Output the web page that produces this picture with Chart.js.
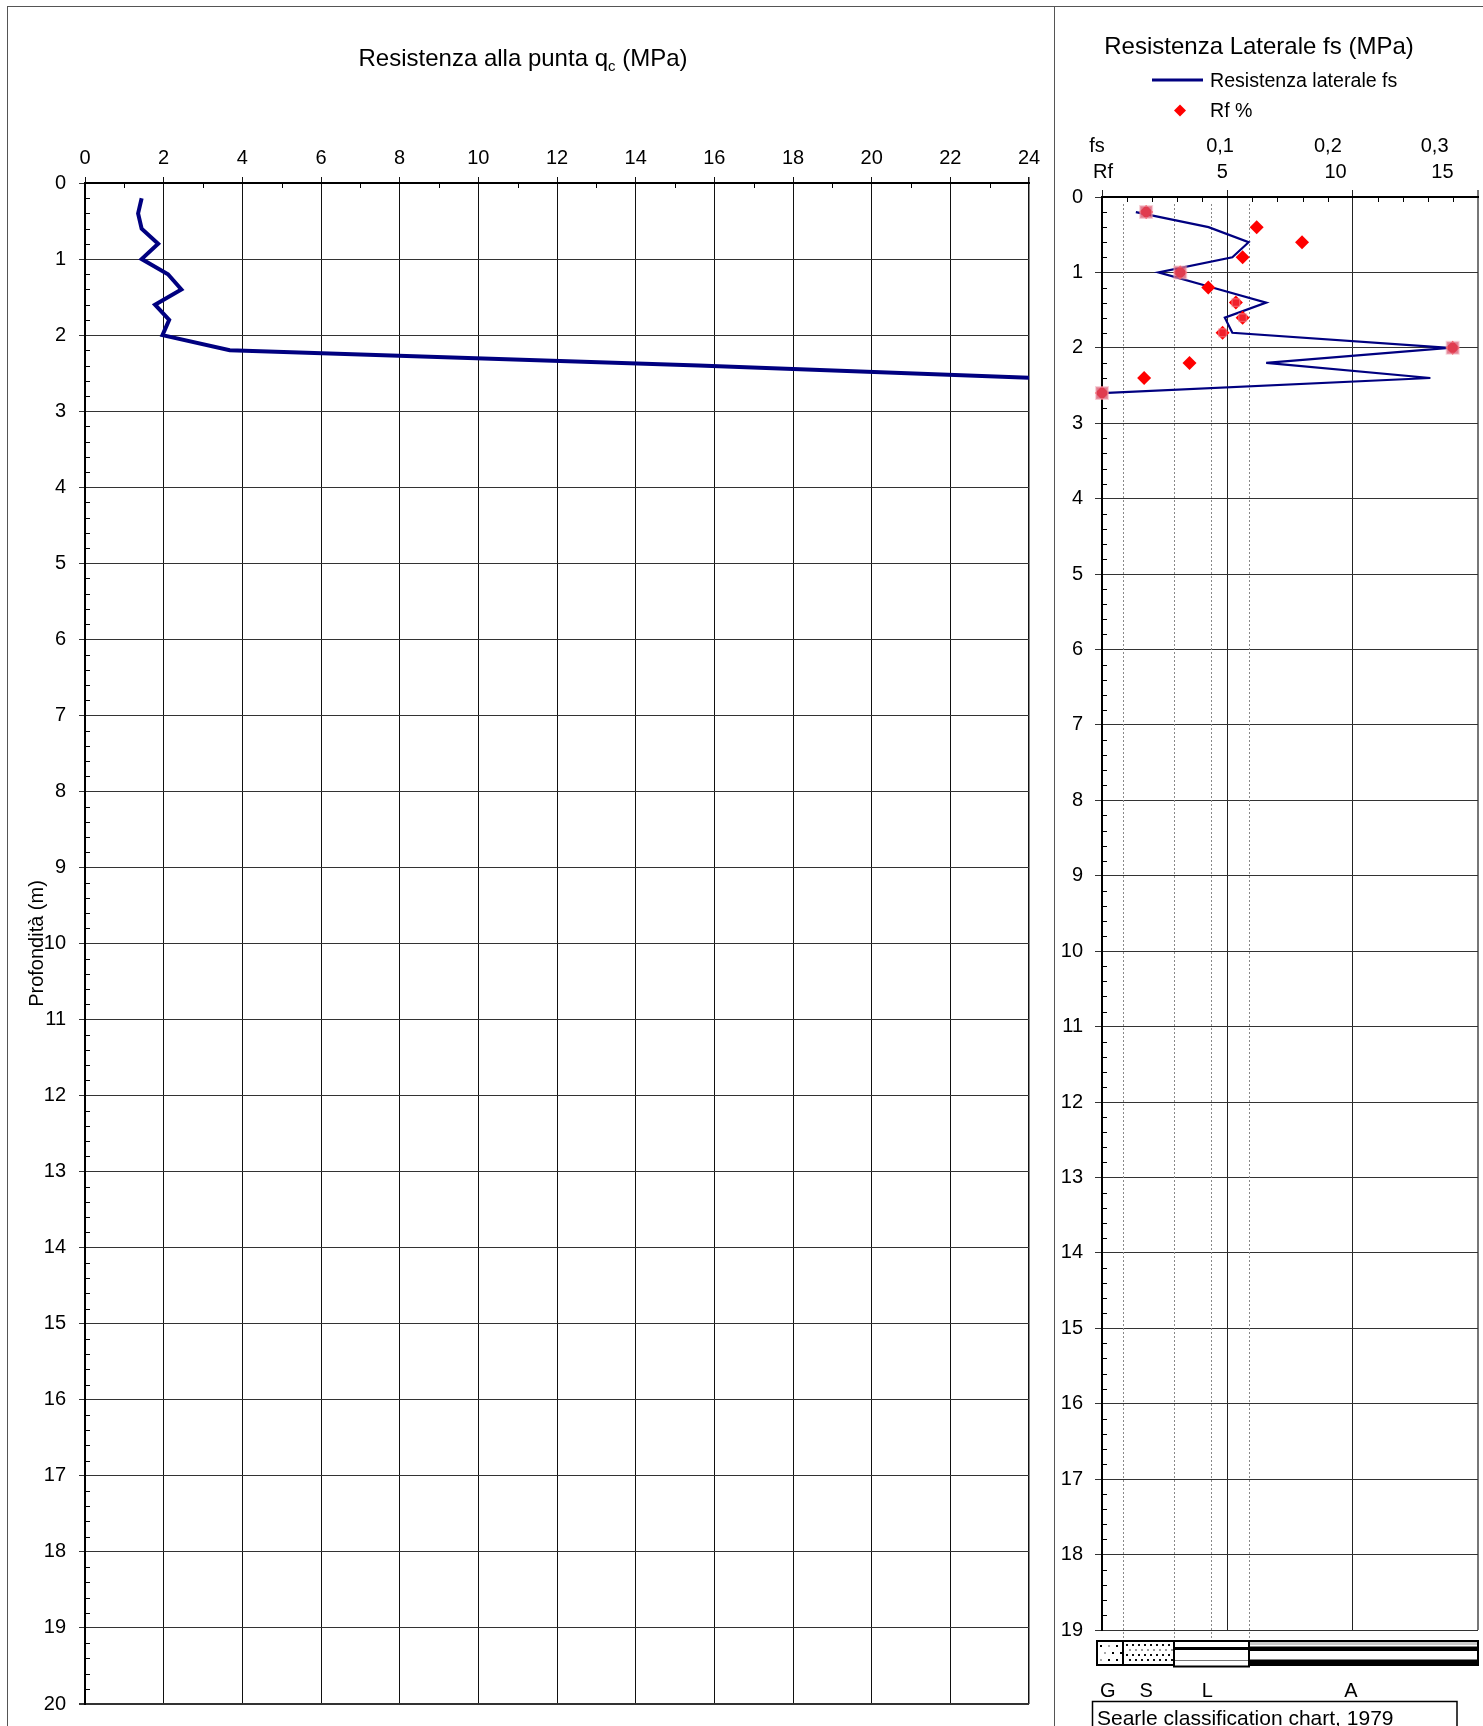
<!DOCTYPE html>
<html><head><meta charset="utf-8">
<script src="https://cdn.jsdelivr.net/npm/chart.js@4/dist/chart.umd.min.js"></script>
<style>
html,body{margin:0;padding:0;background:#fff;}
#wrap{position:relative;width:1483px;height:1726px;overflow:hidden;background:#fff;}
#frameL{position:absolute;left:7px;top:6px;width:1px;height:1800px;background:#555;}
#frameT{position:absolute;left:7px;top:6px;width:1600px;height:1px;background:#555;}
#divider{position:absolute;left:1054px;top:6px;width:1px;height:1800px;background:#555;}
#cL{position:absolute;left:0;top:0;}
#cR{position:absolute;left:1055px;top:0;}
</style></head>
<body>
<div id="wrap">
<div id="frameL"></div><div id="frameT"></div><div id="divider"></div>
<canvas id="cL" width="1055" height="1726"></canvas>
<canvas id="cR" width="428" height="1726"></canvas>
</div>
<script>
// ---------------- DATA ----------------
const depths = [0.2, 0.4, 0.6, 0.8, 1.0, 1.2, 1.4, 1.6, 1.8, 2.0, 2.2, 2.4, 2.6];
const qcValues = [1.44, 1.35, 1.44, 1.86, 1.44, 2.11, 2.45, 1.78, 2.14, 1.97, 3.68, 15.6, 26.0];
const fsValues = [0.027, 0.085, 0.117, 0.104, 0.045, 0.088, 0.131, 0.098, 0.104, 0.277, 0.131, 0.262, 0.0];
const rfValues = [1.76, 6.17, 7.98, 5.61, 3.12, 4.24, 5.34, 5.61, 4.81, 13.99, 3.49, 1.68, 0.0];
const bigMarkDepths = [0.2, 1.0, 2.0, 2.6];
const bigMarkRf = [1.76, 3.12, 13.99, 0.0];
const smallMarkDepths = [1.4, 1.6, 1.8];
const smallMarkRf = [5.34, 5.61, 4.81];

const qcTickValues = [0, 2, 4, 6, 8, 10, 12, 14, 16, 18, 20, 22, 24];
const depthTicksLeft = [0,1,2,3,4,5,6,7,8,9,10,11,12,13,14,15,16,17,18,19,20];
const depthTicksRight = [0,1,2,3,4,5,6,7,8,9,10,11,12,13,14,15,16,17,18,19];
const rfGridValues = [0, 5, 10, 15];
const fsTickLabels = ['0,1', '0,2', '0,3'];
const rfTickLabels = ['5', '10', '15'];
const classBounds = [0.83, 2.86, 4.35, 5.86];
const classLetters = ['G', 'S', 'L', 'A'];

const FONT = "'Liberation Sans', Arial, sans-serif";
Chart.defaults.font.family = FONT;
Chart.defaults.color = '#000';
Chart.defaults.animation = false;

function minorList(max, step, skipEvery) {
  const out = [];
  for (let i = 1; i * step < max - 1e-9; i++) {
    if (i % skipEvery !== 0) out.push(+(i * step).toFixed(4));
  }
  return out;
}
function noPad(s) { s.paddingTop = 0; s.paddingBottom = 0; s.paddingLeft = 0; s.paddingRight = 0; }

const minorTicks = {
  id: 'minorTicks',
  beforeDatasetsDraw(chart, args, o) {
    const {ctx, chartArea: a} = chart;
    const xs = chart.scales.x, ys = chart.scales.y;
    ctx.save();
    ctx.strokeStyle = '#000';
    ctx.lineWidth = 1;
    ctx.beginPath();
    for (const v of o.xMinor) {
      const px = Math.round(xs.getPixelForValue(v)) + 0.5;
      ctx.moveTo(px, a.top); ctx.lineTo(px, a.top + o.len);
    }
    for (const v of o.yMinor) {
      const py = Math.round(ys.getPixelForValue(v)) + 0.5;
      ctx.moveTo(a.left, py); ctx.lineTo(a.left + o.len, py);
    }
    ctx.stroke();
    ctx.restore();
  }
};

// ---------------- LEFT CHART ----------------
const leftDecor = {
  id: 'leftDecor',
  afterDraw(chart) {
    const ctx = chart.ctx;
    ctx.save();
    ctx.fillStyle = '#000';
    ctx.textBaseline = 'alphabetic';
    const big = '24px ' + FONT, small = '15px ' + FONT;
    const p1 = 'Resistenza alla punta q', p2 = 'c', p3 = ' (MPa)';
    ctx.font = big; const w1 = ctx.measureText(p1).width, w3 = ctx.measureText(p3).width;
    ctx.font = small; const w2 = ctx.measureText(p2).width;
    const x0 = 523 - (w1 + w2 + w3) / 2;
    ctx.font = big; ctx.fillText(p1, x0, 66);
    ctx.font = small; ctx.fillText(p2, x0 + w1, 71);
    ctx.font = big; ctx.fillText(p3, x0 + w1 + w2, 66);
    ctx.restore();
  }
};

new Chart(document.getElementById('cL'), {
  type: 'scatter',
  data: {
    datasets: [{
      label: 'qc',
      data: depths.map((d, i) => ({x: qcValues[i], y: d})),
      showLine: true,
      borderColor: '#000080',
      backgroundColor: '#000080',
      borderWidth: 4,
      pointRadius: 0,
      borderJoinStyle: 'miter',
      tension: 0
    }]
  },
  options: {
    responsive: false,
    layout: {autoPadding: false, padding: {left: 0, top: 0, right: 26, bottom: 22}},
    plugins: {
      legend: {display: false}, tooltip: {enabled: false},
      minorTicks: {xMinor: minorList(24, 1, 2), yMinor: minorList(20, 0.2, 5), len: 5}
    },
    scales: {
      x: {
        type: 'linear', position: 'top', min: 0, max: 24,
        afterBuildTicks: s => { s.ticks = qcTickValues.map(v => ({value: v})); },
        afterFit: s => { s.height = 183; noPad(s); },
        ticks: {font: {size: 20}, color: '#000', padding: 7, autoSkip: false, maxRotation: 0},
        grid: {color: '#111', lineWidth: c => (c.tick && c.tick.value === 24 ? 1.5 : 1), tickLength: 6},
        border: {display: true, color: '#000', width: 2}
      },
      y: {
        type: 'linear', reverse: true, min: 0, max: 20,
        afterBuildTicks: s => { s.ticks = depthTicksLeft.map(v => ({value: v})); },
        afterFit: s => { s.width = 85; noPad(s); },
        ticks: {font: {size: 20}, color: '#000', padding: 13, autoSkip: false},
        grid: {color: '#333', lineWidth: c => (c.tick && c.tick.value === 20 ? 2 : 1), tickLength: 6},
        border: {display: true, color: '#000', width: 2},
        title: {display: true, text: 'Profondità (m)', font: {size: 20}, color: '#000', padding: {top: 25, bottom: 0}}
      }
    }
  },
  plugins: [minorTicks, leftDecor]
});

// ---------------- RIGHT CHART ----------------
const rightDecor = {
  id: 'rightDecor',
  beforeDatasetsDraw(chart) {
    const {ctx, chartArea: a} = chart;
    const xs = chart.scales.x;
    ctx.save();
    ctx.strokeStyle = '#888';
    ctx.lineWidth = 1;
    ctx.setLineDash([2, 2]);
    ctx.beginPath();
    for (const v of classBounds) {
      const px = Math.round(xs.getPixelForValue(v)) + 0.5;
      ctx.moveTo(px, a.top + 7); ctx.lineTo(px, a.bottom + 12);
    }
    ctx.stroke();
    ctx.restore();
  },
  afterDraw(chart) {
    const {ctx, chartArea: a} = chart;
    const xs = chart.scales.x;
    ctx.save();
    ctx.fillStyle = '#000';
    ctx.textBaseline = 'alphabetic';
    // title
    ctx.font = '24px ' + FONT;
    ctx.textAlign = 'center';
    ctx.fillText('Resistenza Laterale fs (MPa)', 204, 54);
    // legend
    ctx.strokeStyle = '#000080';
    ctx.lineWidth = 3;
    ctx.beginPath(); ctx.moveTo(97, 80); ctx.lineTo(148, 80); ctx.stroke();
    ctx.fillStyle = '#ff0000';
    ctx.beginPath();
    ctx.moveTo(125, 104.5); ctx.lineTo(131, 110.5); ctx.lineTo(125, 116.5); ctx.lineTo(119, 110.5); ctx.closePath();
    ctx.fill();
    ctx.fillStyle = '#000';
    ctx.textAlign = 'left';
    ctx.font = '19.6px ' + FONT;
    ctx.fillText('Resistenza laterale fs', 155, 87);
    ctx.fillText('Rf %', 155, 117);
    // axis captions
    ctx.font = '20px ' + FONT;
    ctx.textAlign = 'center';
    ctx.fillText('fs', 42, 152);
    ctx.fillText('Rf', 48, 178);
    const fsPos = [4.71, 9.01, 13.27], rfPos = [4.80, 9.32, 13.58];
    fsTickLabels.forEach((t, i) => ctx.fillText(t, xs.getPixelForValue(fsPos[i]), 152));
    rfTickLabels.forEach((t, i) => ctx.fillText(t, xs.getPixelForValue(rfPos[i]), 178));

    // classification bar
    const top = 1641, bot = 1665;
    const xL = a.left - 5;
    const b = classBounds.map(v => Math.round(xs.getPixelForValue(v)));
    const xR = a.right;
    // G
    ctx.fillStyle = '#fff';
    ctx.fillRect(xL, top, b[0] - xL, bot - top);
    for (let yy = top + 4, r = 0; yy < bot - 2; yy += 7, r++) {
      for (let xx = xL + 3 + (r % 2) * 4; xx < b[0] - 2; xx += 8) {
        ctx.fillStyle = ((xx + yy) % 3 === 0) ? '#aaa' : '#000';
        ctx.fillRect(xx, yy, 2, 2);
      }
    }
    // S
    for (let yy = top + 3, r = 0; yy < bot - 2; yy += 5, r++) {
      for (let xx = b[0] + 3 + (r % 2) * 3; xx < b[1] - 2; xx += 6) {
        ctx.fillStyle = ((xx + 2 * yy) % 3 === 0) ? '#999' : '#111';
        ctx.fillRect(xx, yy, 2, 2);
      }
    }
    ctx.strokeStyle = '#000';
    ctx.lineWidth = 2;
    ctx.strokeRect(xL, top, b[0] - xL, bot - top);
    ctx.strokeRect(b[0], top, b[1] - b[0], bot - top);
    // L
    ctx.fillStyle = '#000';
    ctx.fillRect(b[1], top + 6, b[3] - b[1], 3);
    ctx.fillStyle = '#777';
    ctx.fillRect(b[1], top + 19, b[3] - b[1], 1);
    ctx.strokeRect(b[1], top, b[3] - b[1], bot - top + 1.5);
    // A
    ctx.fillStyle = '#ccc';
    ctx.fillRect(b[3], top + 1, xR - b[3], 3);
    ctx.fillStyle = '#000';
    ctx.fillRect(b[3], top + 5.5, xR - b[3], 4.5);
    ctx.fillRect(b[3], top + 18.5, xR - b[3], 6);
    ctx.strokeRect(b[3], top, xR - b[3], bot - top);
    // letters
    ctx.fillStyle = '#000';
    ctx.font = '20px ' + FONT;
    ctx.textAlign = 'center';
    const letterPos = [0.23, 1.76, 4.2, 9.93];
    classLetters.forEach((t, i) => ctx.fillText(t, xs.getPixelForValue(letterPos[i]), 1697));
    // caption box
    ctx.lineWidth = 1.5;
    ctx.strokeRect(37.5, 1701.5, 364.5, 60);
    ctx.textAlign = 'left';
    ctx.font = '21px ' + FONT;
    ctx.fillText('Searle classification chart, 1979', 42, 1725);
    ctx.restore();
  }
};

new Chart(document.getElementById('cR'), {
  type: 'scatter',
  data: {
    datasets: [
      {
        label: 'pink big',
        data: bigMarkDepths.map((d, i) => ({x: bigMarkRf[i], y: d})),
        xAxisID: 'x',
        pointStyle: 'rect', pointRadius: 8.5, pointBorderWidth: 2,
        backgroundColor: 'rgba(214,80,105,0.75)', borderColor: 'rgba(240,165,180,0.5)',
        clip: false
      },
      {
        label: 'pink small',
        data: smallMarkDepths.map((d, i) => ({x: smallMarkRf[i], y: d})),
        xAxisID: 'x',
        pointStyle: 'rect', pointRadius: 5.5, pointBorderWidth: 1.5,
        backgroundColor: 'rgba(230,60,80,0.55)', borderColor: 'rgba(245,170,180,0.45)',
        clip: false
      },
      {
        label: 'Rf %',
        data: depths.map((d, i) => ({x: rfValues[i], y: d})),
        xAxisID: 'x',
        pointStyle: 'rectRot', pointRadius: 7, pointBorderWidth: 0,
        backgroundColor: '#ff0000', borderColor: '#ff0000',
        clip: false
      },
      {
        label: 'Resistenza laterale fs',
        data: depths.map((d, i) => ({x: fsValues[i], y: d})),
        xAxisID: 'xfs',
        showLine: true, pointRadius: 0,
        borderColor: '#000080', backgroundColor: '#000080', borderWidth: 2.2,
        tension: 0
      }
    ]
  },
  options: {
    responsive: false,
    layout: {autoPadding: false, padding: {left: 0, top: 0, right: 5, bottom: 96}},
    plugins: {
      legend: {display: false}, tooltip: {enabled: false},
      minorTicks: {xMinor: minorList(15, 1, 5), yMinor: minorList(19, 0.2, 5), len: 5}
    },
    scales: {
      x: {
        type: 'linear', position: 'top', min: 0, max: 15,
        afterBuildTicks: s => { s.ticks = rfGridValues.map(v => ({value: v})); },
        afterFit: s => { s.height = 197; noPad(s); },
        ticks: {display: false},
        grid: {color: c => (c.tick && c.tick.value === 15 ? '#777' : '#222'),
               lineWidth: c => (c.tick && c.tick.value === 15 ? 2 : 1), tickLength: 7},
        border: {display: true, color: '#000', width: 2}
      },
      xfs: {type: 'linear', position: 'top', min: 0, max: 0.3, display: false,
            afterFit: s => { noPad(s); }},
      y: {
        type: 'linear', reverse: true, min: 0, max: 19,
        afterBuildTicks: s => { s.ticks = depthTicksRight.map(v => ({value: v})); },
        afterFit: s => { s.width = 47; noPad(s); },
        ticks: {font: {size: 20}, color: '#000', padding: 12, autoSkip: false},
        grid: {color: '#333', lineWidth: 1, tickLength: 7},
        border: {display: true, color: '#000', width: 2}
      }
    }
  },
  plugins: [minorTicks, rightDecor]
});
</script>
</body></html>
